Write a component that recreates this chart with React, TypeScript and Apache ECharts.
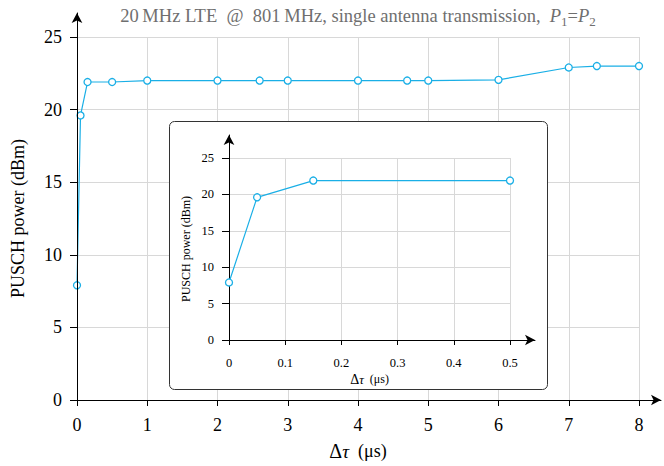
import React, { useEffect, useRef } from "react";
import * as echarts from "echarts";

// Main panel data: delay offset (µs) vs PUSCH power (dBm)
const mainDelay = [0, 0.05, 0.15, 0.5, 1, 2, 2.6, 3, 4, 4.7, 5, 6, 7, 7.4, 8];
const mainPower = [7.9, 19.6, 21.9, 21.9, 22.0, 22.0, 22.0, 22.0, 22.0, 22.0, 22.0, 22.05, 22.9, 23.0, 23.0];

// Inset (zoom on small delays)
const insetDelay = [0, 0.05, 0.15, 0.5];
const insetPower = [7.9, 19.6, 21.9, 21.9];

// Axis ranges
const mainXRange = [0, 8, 1];
const mainYRange = [0, 25, 5];
const insetXRange = [0, 0.5, 0.1];
const insetYRange = [0, 25, 5];

const titleText = "20\u2009MHz LTE  @  801\u2009MHz, single antenna transmission,  ";
const yTitle = "PUSCH power (dBm)";

const FONT = "Liberation Serif";
const LINE = "#1aafe6";
const GRIDC = "#d8d8d8";

export default function App() {
  const ref = useRef<HTMLDivElement>(null);
  useEffect(() => {
    if (!ref.current) return;
    const chart = echarts.init(ref.current, undefined, { renderer: "svg" });
    const lineAxis = (gridIndex: number) => ({
      gridIndex,
      type: "value",
      min: 0,
      max: 1,
      axisLine: {
        show: true,
        onZero: false,
        symbol: ["none", "arrow"],
        symbolSize: [8, 10],
        lineStyle: { color: "#000", width: 1 },
      },
      axisTick: { show: false },
      axisLabel: { show: false },
      splitLine: { show: false },
      z: 6,
    });
    const option: any = {
      animation: false,
      textStyle: { fontFamily: FONT },
      title: {
        text: titleText + "{i|P}{s|1}={i|P}{s|2}",
        left: 358,
        top: 4,
        padding: 0,
        textAlign: "center",
        textStyle: {
          fontFamily: FONT,
          fontWeight: "normal",
          fontSize: 18.5,
          color: "#6f6f6f",
          lineHeight: 24,
          rich: {
            i: { fontFamily: FONT, fontStyle: "italic", fontSize: 18.5, color: "#6f6f6f", lineHeight: 24 },
            s: { fontFamily: FONT, fontSize: 13, color: "#6f6f6f", lineHeight: 16, verticalAlign: "bottom" },
          },
        },
      },
      grid: [
        { left: 77, right: 25, top: 37, bottom: 66 },
        { left: 77, right: 3, top: 13, bottom: 66 },
        { left: 229, right: 154, top: 158, bottom: 126 },
        { left: 229, right: 129, top: 135, bottom: 126 },
      ],
      xAxis: [
        {
          gridIndex: 0,
          type: "value",
          min: mainXRange[0],
          max: mainXRange[1],
          interval: mainXRange[2],
          axisLine: { show: false },
          axisTick: { show: true, length: 6, lineStyle: { color: "#000" } },
          axisLabel: { fontSize: 18, color: "#000", margin: 16, fontFamily: FONT },
          splitLine: { show: true, lineStyle: { color: GRIDC, width: 1 } },
          name: "{d|\u0394}{t|\u03c4}  (\u03bcs)",
          nameLocation: "middle",
          nameGap: 41,
          nameTextStyle: {
            fontFamily: FONT,
            fontSize: 18,
            color: "#000",
            rich: {
              d: { fontFamily: FONT, fontSize: 20, color: "#000" },
              t: { fontFamily: FONT, fontSize: 19, fontStyle: "italic", color: "#000" },
            },
          },
        },
        lineAxis(1),
        {
          gridIndex: 2,
          type: "value",
          min: insetXRange[0],
          max: insetXRange[1],
          interval: insetXRange[2],
          axisLine: { show: false },
          axisTick: { show: true, length: 5, lineStyle: { color: "#000" } },
          axisLabel: { fontSize: 12.5, color: "#000", margin: 16, fontFamily: FONT },
          splitLine: { show: true, lineStyle: { color: GRIDC, width: 1 } },
          name: "{d|\u0394}{t|\u03c4}  (\u03bcs)",
          nameLocation: "middle",
          nameGap: 32,
          nameTextStyle: {
            fontFamily: FONT,
            fontSize: 12,
            color: "#000",
            rich: {
              d: { fontFamily: FONT, fontSize: 14, color: "#000" },
              t: { fontFamily: FONT, fontSize: 13, fontStyle: "italic", color: "#000" },
            },
          },
          z: 6,
        },
        lineAxis(3),
      ],
      yAxis: [
        {
          gridIndex: 0,
          type: "value",
          min: mainYRange[0],
          max: mainYRange[1],
          interval: mainYRange[2],
          axisLine: { show: false },
          axisTick: { show: true, length: 7, lineStyle: { color: "#000" } },
          axisLabel: { fontSize: 18, color: "#000", margin: 15, fontFamily: FONT },
          splitLine: { show: true, lineStyle: { color: GRIDC, width: 1 } },
          name: yTitle,
          nameLocation: "middle",
          nameRotate: 90,
          nameGap: 50,
          nameTextStyle: { fontFamily: FONT, fontSize: 18, color: "#000" },
        },
        lineAxis(1),
        {
          gridIndex: 2,
          type: "value",
          min: insetYRange[0],
          max: insetYRange[1],
          interval: insetYRange[2],
          axisLine: { show: false },
          axisTick: { show: true, length: 7, lineStyle: { color: "#000" } },
          axisLabel: { fontSize: 12.5, color: "#000", margin: 15, fontFamily: FONT },
          splitLine: { show: true, lineStyle: { color: GRIDC, width: 1 } },
          name: yTitle,
          nameLocation: "middle",
          nameRotate: 90,
          nameGap: 37,
          nameTextStyle: { fontFamily: FONT, fontSize: 12, color: "#000" },
          z: 6,
        },
        lineAxis(3),
      ],
      graphic: [
        {
          type: "rect",
          z: 5,
          shape: { x: 169.5, y: 121.5, width: 378, height: 268, r: 5 },
          style: { fill: "#fff", stroke: "#333", lineWidth: 1 },
        },
      ],
      series: [
        {
          type: "line",
          xAxisIndex: 0,
          yAxisIndex: 0,
          data: mainDelay.map((d, i) => [d, mainPower[i]]),
          symbol: "circle",
          symbolSize: 7,
          showAllSymbol: true,
          lineStyle: { color: LINE, width: 1.2 },
          itemStyle: { color: "#fff", borderColor: LINE, borderWidth: 1.3 },
          z: 3,
        },
        {
          type: "line",
          xAxisIndex: 2,
          yAxisIndex: 2,
          data: insetDelay.map((d, i) => [d, insetPower[i]]),
          symbol: "circle",
          symbolSize: 7,
          showAllSymbol: true,
          lineStyle: { color: LINE, width: 1.2 },
          itemStyle: { color: "#fff", borderColor: LINE, borderWidth: 1.3 },
          z: 8,
        },
      ],
    };
    chart.setOption(option);
    return () => chart.dispose();
  }, []);
  return (
    <div
      ref={ref}
      style={{ position: "fixed", left: 0, top: 0, width: 664, height: 466, background: "#fff" }}
    />
  );
}
